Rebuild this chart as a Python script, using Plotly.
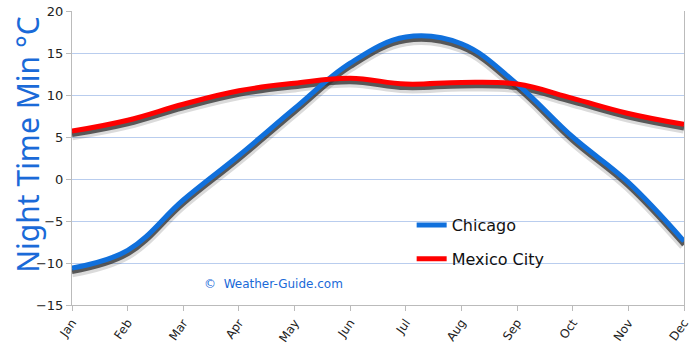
import plotly.graph_objects as go

months = ["Jan", "Feb", "Mar", "Apr", "May", "Jun", "Jul", "Aug", "Sep", "Oct", "Nov", "Dec"]
chicago = [-10.6, -8.5, -2.5, 2.8, 8.4, 13.8, 16.9, 16.1, 11.3, 5.0, -0.4, -7.4]
mexico_city = [5.7, 7.0, 8.9, 10.5, 11.4, 12.0, 11.3, 11.5, 11.3, 9.6, 7.8, 6.5]
y_ticks = [-15, -10, -5, 0, 5, 10, 15, 20]
grid_vals = [-10, -5, 0, 5, 10, 15]

Y_RANGE = [-15, 20]
SHADOW_SHIFT = 0.42   # data units, makes the shadow sit slightly below the line
BLUR_SHIFT = 0.5

fig = go.Figure()

# grid carrier (main y axis, drawn first / underneath)
fig.add_trace(go.Scatter(x=[months[0]], y=[0], mode="markers",
                         marker=dict(opacity=0), showlegend=False, hoverinfo="skip"))

# soft blur of shadow
for vals in (chicago, mexico_city):
    fig.add_trace(go.Scatter(
        x=months, y=vals, mode="lines", yaxis="y2",
        line=dict(color="rgba(0,0,0,0.14)", width=10, shape="spline", smoothing=1.1),
        showlegend=False, hoverinfo="skip"))
# shadow core
for vals in (chicago, mexico_city):
    fig.add_trace(go.Scatter(
        x=months, y=vals, mode="lines", yaxis="y4",
        line=dict(color="rgba(55,55,55,0.8)", width=5, shape="spline", smoothing=1.1),
        showlegend=False, hoverinfo="skip"))

fig.add_trace(go.Scatter(
    x=months, y=chicago, mode="lines", name="Chicago", yaxis="y5", legendgroup="a",
    line=dict(color="#1070DC", width=5, shape="spline", smoothing=1.1)))
fig.add_trace(go.Scatter(
    x=months, y=mexico_city, mode="lines", name="Mexico City", yaxis="y5", legendgroup="b",
    line=dict(color="#FF0000", width=5, shape="spline", smoothing=1.1)))

fig.add_annotation(
    text="©  Weather-Guide.com", xref="paper", yref="paper",
    x=0.33, y=0.07, xanchor="center", yanchor="middle", showarrow=False,
    font=dict(family="DejaVu Sans", size=12, color="#1A6AD8"))

fig.add_annotation(
    text="Night Time Min °C", xref="paper", yref="paper",
    x=-0.072, y=0.545, xanchor="center", yanchor="middle", showarrow=False,
    textangle=-90, font=dict(family="Noto Sans", size=30, color="#1A6AD8"))

common_hidden = dict(overlaying="y", visible=False)

fig.update_layout(
    width=700, height=345,
    margin=dict(l=72, r=16, t=11, b=40),
    paper_bgcolor="white", plot_bgcolor="white",
    font=dict(family="DejaVu Sans", size=12, color="#222222"),
    xaxis=dict(
        type="category", categoryorder="array", categoryarray=months,
        range=[0, 11], tickangle=-55, showgrid=False, automargin=False,
        showline=True, linecolor="#BBBBBB", linewidth=1,
        ticks="outside", ticklen=5, tickcolor="#BBBBBB",
        tickfont=dict(size=12), zeroline=False),
    yaxis=dict(
        range=Y_RANGE, tickvals=grid_vals, showticklabels=False, automargin=False,
        showgrid=True, gridcolor="#B9CDEE", gridwidth=1, zeroline=False, showline=False),
    yaxis2=dict(range=[Y_RANGE[0] + BLUR_SHIFT, Y_RANGE[1] + BLUR_SHIFT], **common_hidden),
    yaxis4=dict(range=[Y_RANGE[0] + SHADOW_SHIFT, Y_RANGE[1] + SHADOW_SHIFT], **common_hidden),
    yaxis5=dict(
        range=Y_RANGE, overlaying="y", tickvals=y_ticks, showgrid=False, zeroline=False,
        automargin=False, mirror=True,
        showline=True, linecolor="#BBBBBB", linewidth=1,
        ticks="outside", ticklen=5, tickcolor="#BBBBBB",
        tickfont=dict(size=13)),
    legend=dict(
        x=0.555, y=0.33, xanchor="left", yanchor="top",
        bgcolor="rgba(0,0,0,0)", font=dict(family="DejaVu Sans", size=16, color="#111111"),
        itemwidth=30, tracegroupgap=10),
)

fig.write_html("out.html")
